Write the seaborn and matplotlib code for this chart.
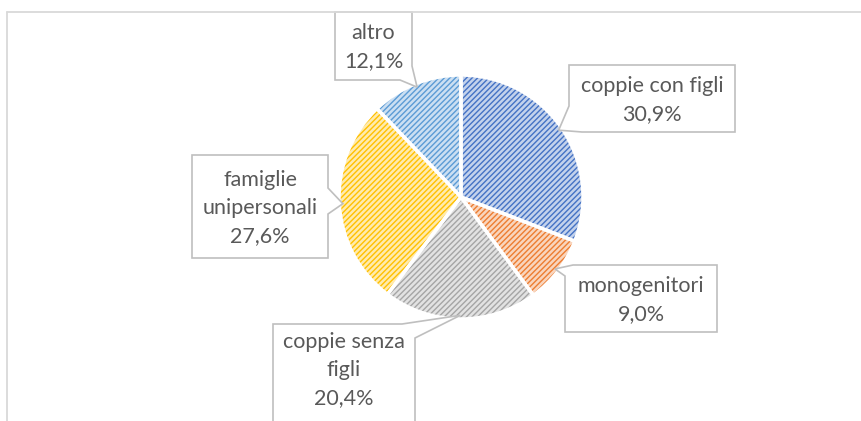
import numpy as np
import matplotlib
matplotlib.use("Agg")
import matplotlib.pyplot as plt
import matplotlib.colors as mcolors
import seaborn as sns
from matplotlib.patches import Polygon

# dati
categorie = ["coppie con figli", "monogenitori", "coppie senza figli",
             "famiglie unipersonali", "altro"]
quote = [30.9, 9.0, 20.4, 27.6, 12.1]
etichette = ["coppie con figli\n30,9%", "monogenitori\n9,0%",
             "coppie senza\nfigli\n20,4%", "famiglie\nunipersonali\n27,6%",
             "altro\n12,1%"]
colori = ["#4472C4", "#ED7D31", "#A5A5A5", "#FFC000", "#5B9BD5"]

# layout dei riquadri (pixel, y verso il basso); ty = centro del testo
riquadri = [
    dict(rect=(569, 65, 735, 132), where="bl", a=106, b=582, ty=100),
    dict(rect=(565, 265, 717, 332), where="tl", a=276, b=573, ty=300),
    dict(rect=(273, 324, 415, 445), where="tr", a=402, b=338, ty=370),
    dict(rect=(192, 155, 328, 258), where="right", a=188, b=214, ty=208),
    dict(rect=(335, 12, 412, 80), where="br", a=66, b=400, ty=47),
]

sns.set_theme(style="white")
plt.rcParams['font.family'] = ['Lato', 'DejaVu Sans']
plt.rcParams['hatch.linewidth'] = 1.0

W, H = 861, 421
fig = plt.figure(figsize=(W / 100, H / 100), dpi=100)
fig.patch.set_facecolor("white")

cx, cy, r = 461, 197, 122
ax = fig.add_axes([(cx - r) / W, (H - cy - r) / H, 2 * r / W, 2 * r / H])

pal = sns.color_palette(colori)


def schiarisci(c, f):
    c = np.array(mcolors.to_rgb(c))
    return tuple(c + (1 - c) * f)


wedges, _ = ax.pie(quote, colors=[schiarisci(c, 0.68) for c in pal],
                   startangle=90, counterclock=False,
                   wedgeprops=dict(linewidth=0))
for w, c in zip(wedges, pal):
    w.set_edgecolor(c)
    w.set_hatch("//////")
ax.pie(quote, startangle=90, counterclock=False,
       wedgeprops=dict(fill=False, edgecolor="white", linewidth=2.5))
ax.set_xlim(-1, 1)
ax.set_ylim(-1, 1)
ax.set_aspect("equal")

# overlay in pixel
ov = fig.add_axes([0, 0, 1, 1], zorder=3)
ov.set_xlim(0, W)
ov.set_ylim(H, 0)
ov.axis("off")

ov.plot([7, 7], [H + 5, 12], color="#D9D9D9", lw=1.3)
ov.plot([7, W + 5], [12, 12], color="#D9D9D9", lw=1.3)


def callout(rect, tip, where, a, b):
    x0, y0, x1, y1 = rect
    if where == "bl":
        v = [(x0, y0), (x1, y0), (x1, y1), (b, y1), tip, (x0, a)]
    elif where == "tl":
        v = [(b, y0), (x1, y0), (x1, y1), (x0, y1), (x0, a), tip]
    elif where == "tr":
        v = [(x0, y0), (a, y0), tip, (x1, b), (x1, y1), (x0, y1)]
    elif where == "br":
        v = [(x0, y0), (x1, y0), (x1, a), tip, (b, y1), (x0, y1)]
    else:  # right
        v = [(x0, y0), (x1, y0), (x1, a), tip, (x1, b), (x1, y1), (x0, y1)]
    return v


cum = np.cumsum([0] + quote[:-1])
for q, c0, lab, box in zip(quote, cum, etichette, riquadri):
    theta = np.deg2rad(90 - 360 * (c0 + q / 2) / 100)
    px, py = ax.transData.transform((0.97 * np.cos(theta), 0.97 * np.sin(theta)))
    tip = (px, H - py)
    verts = callout(box["rect"], tip, box["where"], box["a"], box["b"])
    ov.add_patch(Polygon(verts, closed=True, facecolor="white",
                         edgecolor="#BFBFBF", lw=1.2))
    x0, y0, x1, y1 = box["rect"]
    ov.text((x0 + x1) / 2, box["ty"], lab, ha="center", va="center",
            multialignment="center", fontsize=15.5, color="#595959",
            linespacing=1.5)

fig.savefig("out.png", dpi=100)
